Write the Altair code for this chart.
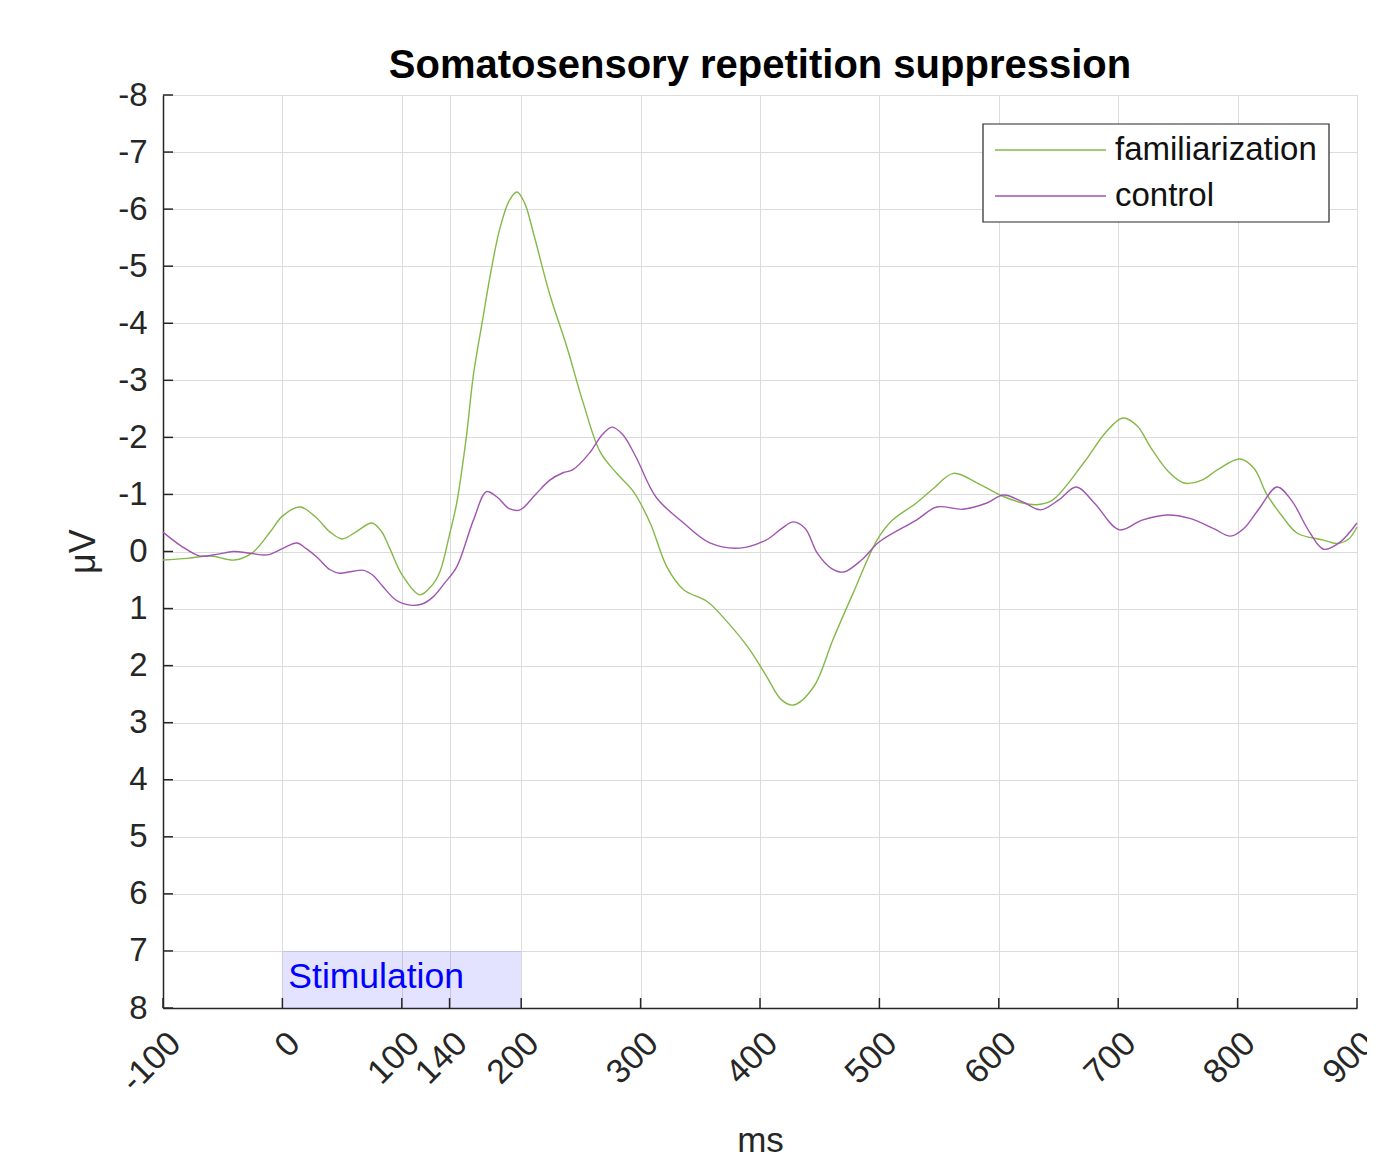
import altair as alt
import pandas as pd

# ---- data ----
fam_t = [-100, -80, -60, -40, -25, -10, 0, 15, 28, 40, 50, 62, 75, 83, 90, 100, 115, 125, 132,
         140, 146, 154, 160, 168, 175, 182, 190, 196.5, 203, 210, 224, 238, 252, 266, 280, 294,
         308, 322, 336, 356, 372, 390, 405, 418, 428, 445, 461, 478, 498, 511, 531, 545, 562, 582,
         601, 620, 632, 645, 671, 690, 704, 716, 727, 742, 755, 770, 783, 802, 814, 824, 838,
         850, 872, 883, 893, 900]
fam_v = [0.15, 0.12, 0.08, 0.15, 0.02, -0.35, -0.62, -0.78, -0.6, -0.34, -0.22, -0.35, -0.5,
         -0.35, -0.05, 0.4, 0.76, 0.6, 0.35, -0.3, -0.85, -2.0, -3.1, -4.1, -4.95, -5.65, -6.15,
         -6.3, -6.1, -5.6, -4.5, -3.6, -2.6, -1.75, -1.37, -1.05, -0.5, 0.27, 0.67, 0.88, 1.22,
         1.68, 2.17, 2.6, 2.69, 2.37, 1.55, 0.73, -0.2, -0.55, -0.85, -1.1, -1.37, -1.2, -0.99,
         -0.85, -0.82, -0.9, -1.55, -2.1, -2.34, -2.2, -1.83, -1.4, -1.2, -1.25, -1.43, -1.62,
         -1.45, -1.02, -0.6, -0.32, -0.2, -0.14, -0.22, -0.43]

ctl_t = [-100, -85, -69, -55, -41, -27, -13, 0, 12, 20, 29, 40, 48, 58, 68, 76, 84, 95, 107,
         117, 126, 136, 146, 160, 171, 180, 190, 199, 212, 224, 235, 243, 257, 268, 276, 285,
         296, 313, 336, 358, 383, 405, 418, 428, 438, 448, 460, 470, 485, 500, 531, 548, 570,
         590, 604, 620, 635, 650, 665, 680, 701, 720, 741, 760, 780, 794, 805, 818, 833, 845,
         860, 872, 885, 900]
ctl_v = [-0.34, -0.1, 0.08, 0.05, 0.0, 0.03, 0.06, -0.05, -0.15, -0.05, 0.1, 0.32, 0.38, 0.35,
         0.33, 0.42, 0.61, 0.85, 0.94, 0.92, 0.8, 0.55, 0.27, -0.55, -1.05, -0.95, -0.75, -0.73,
         -1.0, -1.25, -1.38, -1.43, -1.72, -2.05, -2.18, -2.05, -1.66, -0.95, -0.5, -0.15, -0.06,
         -0.2, -0.4, -0.52, -0.4, 0.03, 0.3, 0.36, 0.15, -0.17, -0.55, -0.78, -0.74, -0.85,
         -0.99, -0.87, -0.73, -0.9, -1.13, -0.85, -0.38, -0.55, -0.64, -0.58, -0.4, -0.27, -0.4,
         -0.75, -1.13, -0.9, -0.35, -0.04, -0.15, -0.5]

series_names = ["familiarization", "control"]
series_colors = ["#84B948", "#A055B0"]

x_ticks = [-100, 0, 100, 140, 200, 300, 400, 500, 600, 700, 800, 900]
y_ticks = list(range(-8, 9))

stim_x = [0, 200]
stim_y = [7, 8]
stim_label = "Stimulation"
stim_label_pos = [5, 7.45]

title_text = "Somatosensory repetition suppression"
x_title = "ms"
y_title = "μV"

# ---- tables ----
df = pd.concat([
    pd.DataFrame({"t": fam_t, "v": fam_v, "series": series_names[0]}),
    pd.DataFrame({"t": ctl_t, "v": ctl_v, "series": series_names[1]}),
])
stim_df = pd.DataFrame({"x0": [stim_x[0]], "x1": [stim_x[1]], "y0": [stim_y[0]], "y1": [stim_y[1]]})
stim_txt_df = pd.DataFrame({"x": [stim_label_pos[0]], "y": [stim_label_pos[1]], "label": [stim_label]})
xt_df = pd.DataFrame({"v": x_ticks})
yt_df = pd.DataFrame({"v": y_ticks})

W, H = 1194, 913
FONT = "Liberation Sans"
AX = "#262626"
GRID = "#dcdcdc"

xscale = alt.Scale(domain=[-100, 900], nice=False, zero=False)
yscale = alt.Scale(domain=[-8, 8], reverse=True, nice=False, zero=False)

xaxis = alt.Axis(values=x_ticks, labelExpr="'' + datum.value", grid=True, gridColor=GRID,
                 gridWidth=1, domainColor=AX, domainWidth=1.5, ticks=False, labelAngle=315,
                 labelAlign="right", labelBaseline="top", labelPadding=18, labelFontSize=34,
                 labelColor=AX, labelFont=FONT, title=x_title, titleFontSize=35,
                 titleFontWeight="normal", titleColor=AX, titleFont=FONT, titleX=597,
                 titleY=132, titleBaseline="middle", titleAlign="center", labelOverlap=False,
                 labelFlush=False)
yaxis = alt.Axis(values=y_ticks, labelExpr="'' + datum.value", grid=True, gridColor=GRID,
                 gridWidth=1, domainColor=AX, domainWidth=1.5, ticks=False, labelPadding=16,
                 labelFontSize=33, labelColor=AX, labelFont=FONT, title=y_title,
                 titleFontSize=36, titleFontWeight="normal", titleColor=AX, titleFont=FONT,
                 titleX=-80, titleY=456, titleAngle=270, titleBaseline="middle",
                 titleAlign="center", labelOverlap=False, labelFlush=False)

X = lambda f: alt.X(f, scale=xscale, axis=xaxis)
Y = lambda f: alt.Y(f, scale=yscale, axis=yaxis)

stim = alt.Chart(stim_df).mark_rect(color="#0000ff", opacity=0.11).encode(
    x=X("x0:Q"), x2="x1", y=Y("y0:Q"), y2="y1")

stim_text = alt.Chart(stim_txt_df).mark_text(align="left", baseline="middle", color="#0000ff",
                                              fontSize=35.5, font=FONT).encode(
    x=X("x:Q"), y=Y("y:Q"), text="label:N")

lines = alt.Chart(df).mark_line(interpolate="catmull-rom", strokeWidth=1.4).encode(
    x=X("t:Q"), y=Y("v:Q"),
    color=alt.Color("series:N", scale=alt.Scale(domain=series_names, range=series_colors), legend=None),
    detail="series:N")

yticks = alt.Chart(yt_df).mark_rule(color=AX, strokeWidth=1.5).encode(
    y=Y("v:Q"), x=alt.value(0), x2=alt.value(10))
xticks = alt.Chart(xt_df).mark_rule(color=AX, strokeWidth=1.5).encode(
    x=X("v:Q"), y=alt.value(H), y2=alt.value(H - 10))

one = pd.DataFrame({"a": [0]})

# chart title as a text mark centred over the plot
title = alt.Chart(one).mark_text(align="center", baseline="alphabetic", fontSize=40,
                                 fontWeight="bold", font=FONT, color="#000000").encode(
    x=alt.value(W / 2), y=alt.value(-17), text=alt.value(title_text))

# legend (manual, box at top-right inside the plot)
leg_box = alt.Chart(one).mark_rect(fill="white", stroke="#262626", strokeWidth=1.2).encode(
    x=alt.value(820), x2=alt.value(1166), y=alt.value(29), y2=alt.value(127))
leg_layers = []
for i, (nm, col) in enumerate(zip(series_names, series_colors)):
    yy = 55 + i * 46
    leg_layers.append(alt.Chart(one).mark_rule(color=col, strokeWidth=1.4).encode(
        x=alt.value(832), x2=alt.value(943), y=alt.value(yy)))
    leg_layers.append(alt.Chart(one).mark_text(
        align="left", baseline="middle", fontSize=33, font=FONT, color="#111111").encode(
        x=alt.value(952), y=alt.value(yy), text=alt.value(nm)))

chart = alt.layer(stim, stim_text, lines, yticks, xticks, leg_box, *leg_layers, title).properties(
    width=W, height=H,
    padding={"left": 155, "top": 87, "right": 10, "bottom": 150},
    autosize=alt.AutoSizeParams(type="none"),
).configure_view(stroke=None).configure(font=FONT)

chart.save("out.html", embed_options={"renderer": "svg", "actions": False})
